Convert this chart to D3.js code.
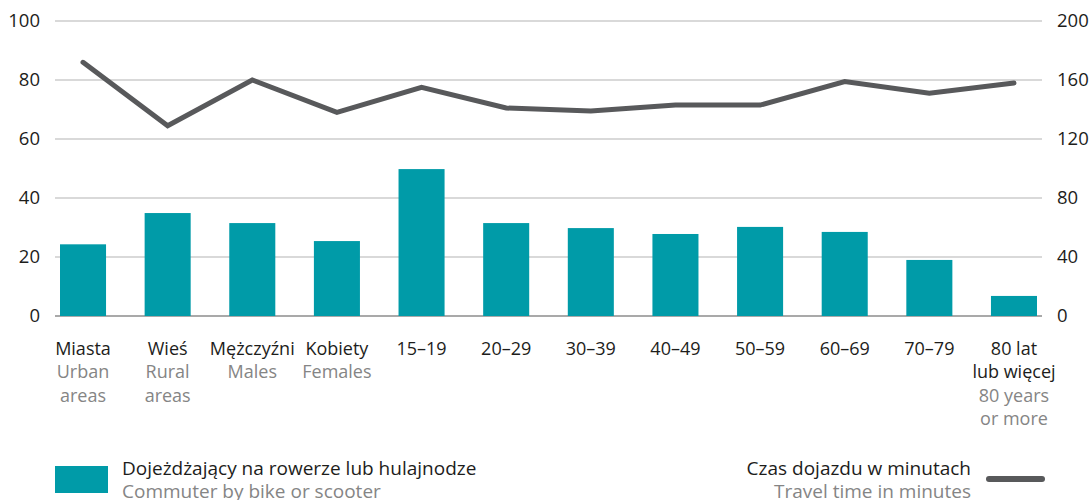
<!DOCTYPE html>
<html>
<head>
<meta charset="utf-8">
<script src="https://cdnjs.cloudflare.com/ajax/libs/d3/7.8.5/d3.min.js"></script>
<style>
  body { margin: 0; background: #fff; }
  svg text { font-family: "Open Sans", "Noto Sans", sans-serif; }
</style>
</head>
<body>
<div id="chart"></div>
<script>
// categories (Polish label lines, English label lines)
var catsPl = [["Miasta"], ["Wieś"], ["Mężczyźni"], ["Kobiety"], ["15–19"], ["20–29"], ["30–39"],
              ["40–49"], ["50–59"], ["60–69"], ["70–79"], ["80 lat", "lub więcej"]];
var catsEn = [["Urban", "areas"], ["Rural", "areas"], ["Males"], ["Females"], [], [], [],
              [], [], [], [], ["80 years", "or more"]];
// share commuting by bike or scooter (left axis)
var bikeShare = [24.3, 34.9, 31.5, 25.4, 49.8, 31.5, 29.8, 27.8, 30.2, 28.5, 19.0, 6.8];
// travel time in minutes (right axis)
var travelTime = [172, 129, 160, 138, 155, 141, 139, 143, 143, 159, 151, 158];
var leftTicks = [0, 20, 40, 60, 80, 100];
var rightTicks = [0, 40, 80, 120, 160, 200];

var barLabel = ["Dojeżdżający na rowerze lub hulajnodze", "Commuter by bike or scooter"];
var lineLabel = ["Czas dojazdu w minutach", "Travel time in minutes"];

var w = 1090, h = 500;
var teal = "#009ba8", lineCol = "#58595b", grid = "#b3b3b3";
var black = "#1d1d1b", gray = "#858585";

var svg = d3.select("#chart").append("svg")
  .attr("width", w)
  .attr("height", h);

var x = d3.scaleBand()
  .domain(d3.range(catsPl.length))
  .range([60, 1037])
  .paddingInner(0.456)
  .paddingOuter(0);

var yL = d3.scaleLinear().domain([0, 100]).range([316, 21]);
var yR = d3.scaleLinear().domain([0, 200]).range([316, 21]);

// gridlines
svg.append("g").selectAll("line").data(leftTicks).enter().append("line")
  .attr("x1", 55).attr("x2", 1042)
  .attr("y1", d => yL(d)).attr("y2", d => yL(d))
  .attr("stroke", d => d === 0 ? "#8c8c8c" : grid)
  .attr("stroke-width", d => d === 0 ? 1.5 : 1.2);

// left axis
var axL = svg.append("g")
  .attr("transform", "translate(40,0)")
  .call(d3.axisLeft(yL).tickValues(leftTicks).tickSize(0).tickPadding(0));
axL.select(".domain").remove();
axL.selectAll("text")
  .attr("font-size", 18.5)
  .attr("fill", black)
  .style("font-family", "'Open Sans', sans-serif");

// right axis
var axR = svg.append("g")
  .attr("transform", "translate(1057,0)")
  .call(d3.axisRight(yR).tickValues(rightTicks).tickSize(0).tickPadding(0));
axR.select(".domain").remove();
axR.selectAll("text")
  .attr("font-size", 18.5)
  .attr("fill", black)
  .style("font-family", "'Open Sans', sans-serif");

// bars
svg.append("g").selectAll("rect").data(bikeShare).enter().append("rect")
  .attr("x", (d, i) => x(i))
  .attr("width", x.bandwidth())
  .attr("y", d => yL(d))
  .attr("height", d => yL(0) - yL(d))
  .attr("fill", teal);

// travel time line
var line = d3.line()
  .x((d, i) => x(i) + x.bandwidth() / 2)
  .y(d => yR(d));

svg.append("path")
  .datum(travelTime)
  .attr("d", line)
  .attr("fill", "none")
  .attr("stroke", lineCol)
  .attr("stroke-width", 5)
  .attr("stroke-linecap", "round")
  .attr("stroke-linejoin", "miter");

// category labels
var lab = svg.append("g").selectAll("text").data(catsPl).enter().append("text")
  .attr("text-anchor", "middle")
  .attr("font-size", 18)
  .attr("x", (d, i) => x(i) + x.bandwidth() / 2);
lab.each(function (d, i) {
  var t = d3.select(this);
  var lines = d.map(s => ({s: s, c: black})).concat(catsEn[i].map(s => ({s: s, c: gray})));
  lines.forEach((l, k) => {
    t.append("tspan")
      .attr("x", x(i) + x.bandwidth() / 2)
      .attr("y", 354.5 + k * 23.5)
      .attr("fill", l.c)
      .text(l.s);
  });
});

// legend
svg.append("rect")
  .attr("x", 55).attr("y", 466)
  .attr("width", 53).attr("height", 27)
  .attr("fill", teal);
svg.append("text").attr("x", 122).attr("y", 474.5)
  .attr("font-size", 19).attr("fill", black).text(barLabel[0]);
svg.append("text").attr("x", 122).attr("y", 497.5)
  .attr("font-size", 19).attr("fill", gray).text(barLabel[1]);

svg.append("line")
  .attr("x1", 989).attr("x2", 1042)
  .attr("y1", 479).attr("y2", 479)
  .attr("stroke", lineCol).attr("stroke-width", 6)
  .attr("stroke-linecap", "round");
svg.append("text").attr("x", 971).attr("y", 474.5)
  .attr("text-anchor", "end")
  .attr("font-size", 19).attr("fill", black).text(lineLabel[0]);
svg.append("text").attr("x", 971).attr("y", 497.5)
  .attr("text-anchor", "end")
  .attr("font-size", 19).attr("fill", gray).text(lineLabel[1]);
</script>
</body>
</html>
